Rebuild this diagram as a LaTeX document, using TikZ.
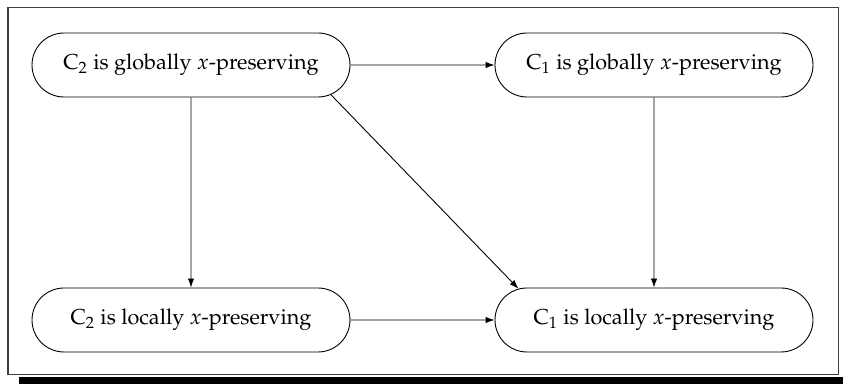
\documentclass[tikz,border=0pt]{standalone}
\usepackage[T1]{fontenc}
\usepackage{mathpazo}
\usetikzlibrary{shapes.misc,arrows.meta}
\begin{document}
\begin{tikzpicture}[x=0.5pt,y=-0.5pt,
  stmt/.style={rounded rectangle, draw, line width=0.45pt,
    minimum width=159pt, minimum height=32pt, inner sep=0pt,
    font=\fontsize{10.8}{12}\selectfont},
  imp/.style={-{Latex[length=4.5pt,width=3.2pt]}, line width=0.45pt}]
  \useasboundingbox (0,0) rectangle (843,384);
  % shadowed frame
  \fill[black] (19,377) rectangle (843,384);
  \draw[line width=0.5pt, black!75] (8,8) rectangle (838,375);
  % statements
  \node[stmt] (g2) at (191,65)  {C$_2$ is globally $x$-preserving};
  \node[stmt] (g1) at (654,65)  {C$_1$ is globally $x$-preserving};
  \node[stmt] (l2) at (191,320) {C$_2$ is locally $x$-preserving};
  \node[stmt] (l1) at (654,320) {C$_1$ is locally $x$-preserving};
  % implications
  \draw[imp] (g2) -- (g1);
  \draw[imp] (l2) -- (l1);
  \draw[imp] (g2) -- (l2);
  \draw[imp] (g1) -- (l1);
  \draw[imp] (g2.-12.8) -- (l1.167.2);
\end{tikzpicture}
\end{document}
